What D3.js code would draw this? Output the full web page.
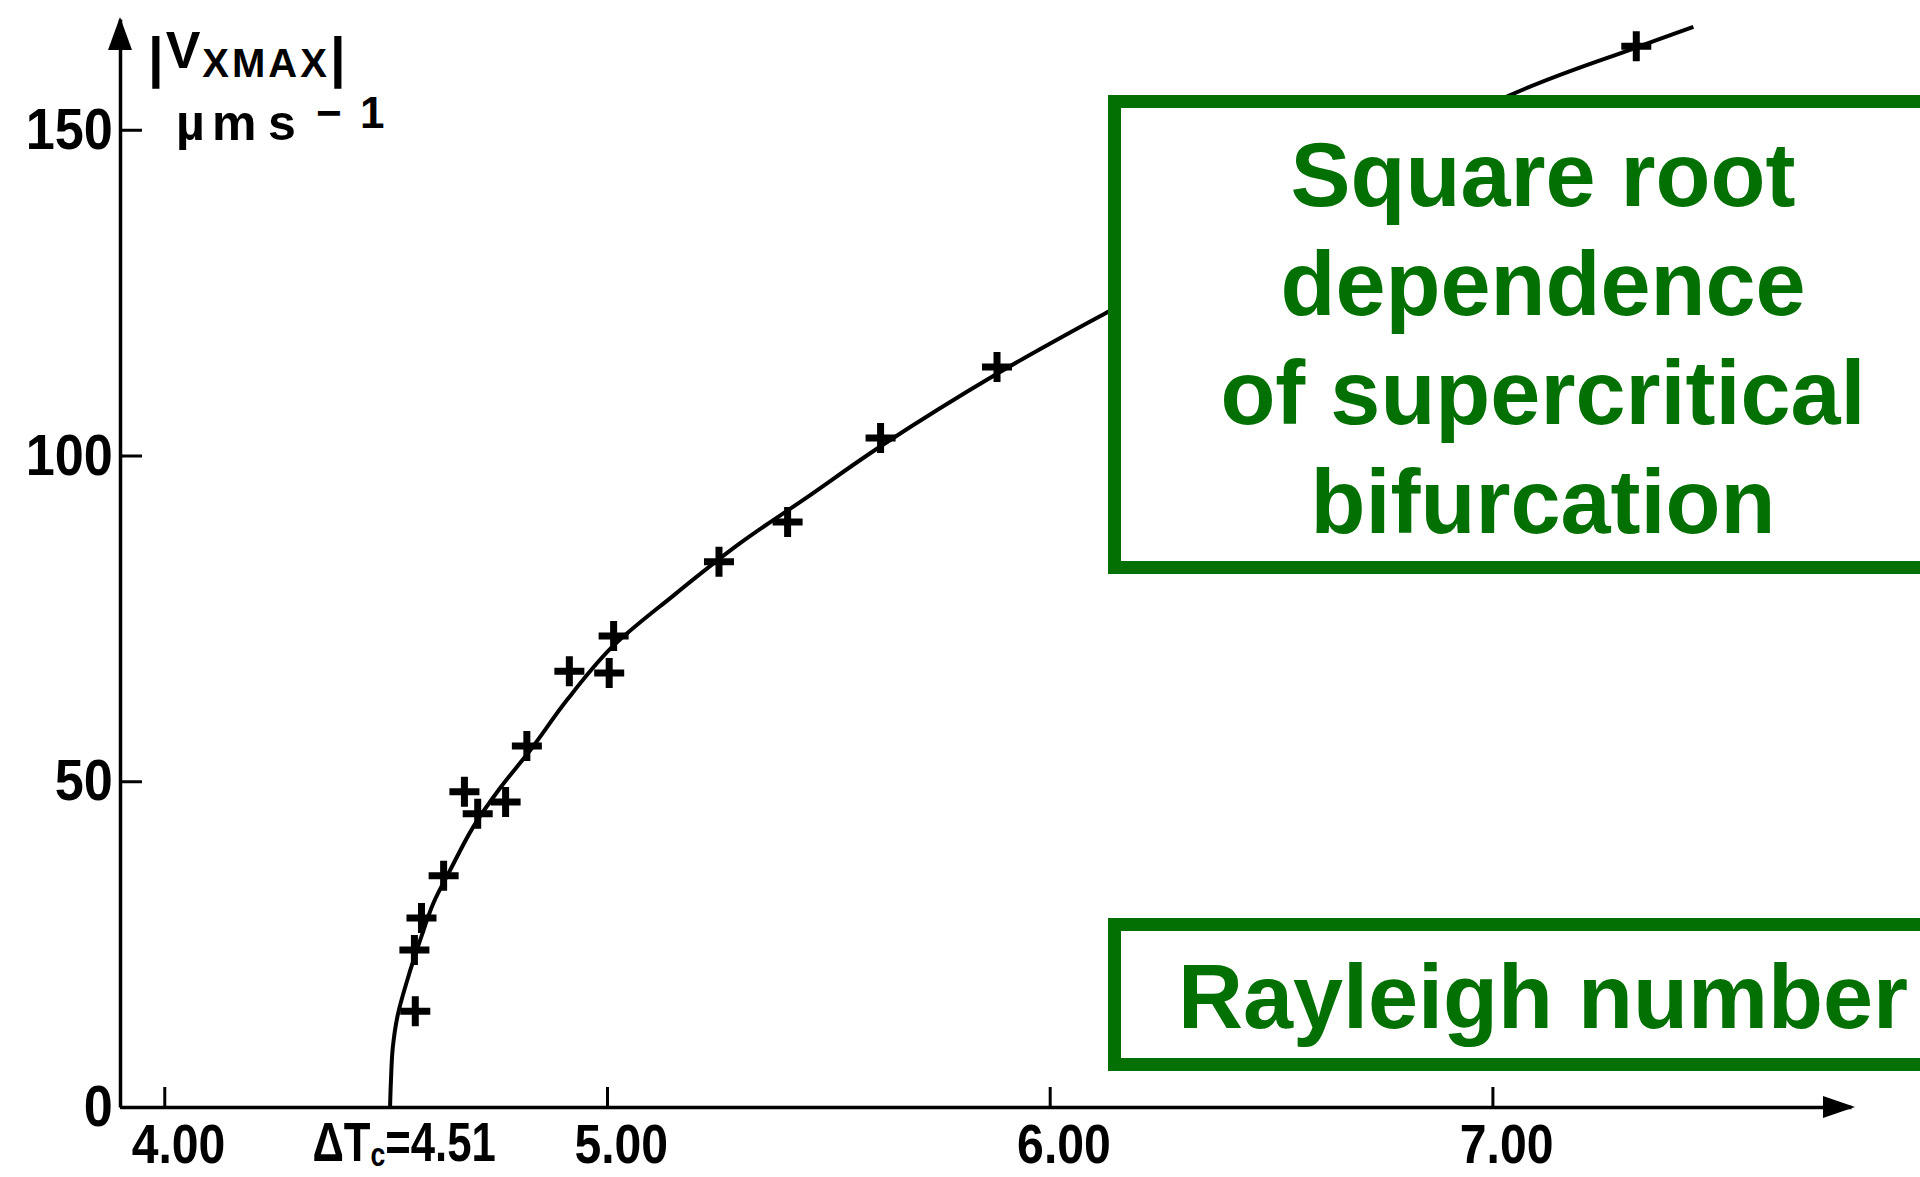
<!DOCTYPE html>
<html>
<head>
<meta charset="utf-8">
<script src="https://cdn.jsdelivr.net/npm/d3@7"></script>
<style>
body { margin: 0; background: #fff; }
svg { display: block; }
</style>
</head>
<body>
<div id="chart"></div>
<script>
/* axis ticks */
const xTicks = [4, 5, 6, 7];
const yTicks = [0, 50, 100, 150];
const criticalT = 4.51;

/* measured points (+) */
const pointX = [4.567, 4.565, 4.581, 4.631, 4.678, 4.708, 4.771, 4.819, 4.915, 5.005, 5.015, 5.253, 5.408, 5.618, 5.881, 7.325];
const pointY = [14.7, 24.1, 29.0, 35.5, 48.4, 45.0, 46.8, 55.4, 66.9, 66.6, 72.3, 83.7, 89.8, 102.7, 113.6, 162.8];

/* drawn curve */
const curveX = [4.510, 4.512, 4.516, 4.527, 4.549, 4.578, 4.608, 4.646, 4.698, 4.759, 4.827, 4.910, 5.010, 5.150, 5.300, 5.450, 5.620, 5.880, 6.130, 6.500, 7.030, 7.320, 7.454];
const curveY = [0, 4, 9, 14, 19.5, 25.6, 31.3, 36.4, 43.0, 49.0, 54.8, 62.5, 70.5, 78.5, 86.5, 93.5, 101.5, 112.5, 122, 135.5, 155, 162.5, 165.8];

/* annotation boxes */
const noteLines = ['Square root', 'dependence', 'of supercritical', 'bifurcation'];
const xLabelText = 'Rayleigh number';

const width = 1920, height = 1177;
const green = '#037003';
const sans = "'Liberation Sans',Arial,Helvetica,sans-serif";

const svg = d3.select('#chart').append('svg')
	.attr('width', width).attr('height', height);

const x = d3.scaleLinear().domain([3.9, 7.81]).range([120, 1851]);
const y = d3.scaleLinear().domain([0, 167]).range([1107, 19]);

// curve
const line = d3.line()
	.x((d) => x(d[0]))
	.y((d) => y(d[1]))
	.curve(d3.curveCatmullRom.alpha(0.5));

svg.append('path')
	.datum(curveX.map((v, i) => [v, curveY[i]]))
	.attr('d', line)
	.attr('fill', 'none')
	.attr('stroke', '#000')
	.attr('stroke-width', 4);

// + markers
svg.selectAll('.pt')
	.data(pointX.map((v, i) => [v, pointY[i]]))
	.enter()
	.append('path')
	.attr('class', 'pt')
	.attr('transform', (d) => 'translate(' + x(d[0]) + ',' + y(d[1]) + ')')
	.attr('d', 'M-15,0H15M0,-15V15')
	.attr('stroke', '#000')
	.attr('stroke-width', 7);

// x axis
const gx = svg.append('g').attr('transform', 'translate(0,' + y(0) + ')');
gx.call(d3.axisBottom(x).tickValues(xTicks).tickFormat(d3.format('.2f'))
	.tickSizeInner(-20).tickSizeOuter(0).tickPadding(0));
gx.select('.domain').attr('stroke', '#000').attr('stroke-width', 3.5);
gx.selectAll('.tick line').attr('stroke', '#000').attr('stroke-width', 3);
gx.selectAll('.tick text')
	.attr('y', 56).attr('dy', 0).attr('dx', 16)
	.attr('transform', 'scale(0.86,1)')
	.attr('fill', '#000')
	.style('font-family', sans).style('font-weight', 'bold').style('font-size', '56px');

// critical value label
const crit = svg.append('g')
	.attr('transform', 'translate(' + (x(criticalT) + 14) + ',' + (y(0) + 54) + ') scale(0.78,1)')
	.append('text')
	.attr('text-anchor', 'middle')
	.style('font-family', sans).style('font-weight', 'bold').style('font-size', '56px');
crit.append('tspan').text('ΔT');
crit.append('tspan').attr('dy', 5).style('font-size', '34px').text('c');
crit.append('tspan').attr('dy', -5).text('=' + criticalT.toFixed(2));

// x arrow
svg.append('path')
	.attr('d', 'M' + (x(7.81) + 4) + ',' + y(0) + 'l-32,-11v22z')
	.attr('fill', '#000');

// y axis
const gy = svg.append('g').attr('transform', 'translate(' + x(3.9) + ',0)');
gy.call(d3.axisLeft(y).tickValues(yTicks)
	.tickSizeInner(-22).tickSizeOuter(0).tickPadding(8));
gy.select('.domain').attr('stroke', '#000').attr('stroke-width', 3.5);
gy.selectAll('.tick line').attr('stroke', '#000').attr('stroke-width', 3);
gy.selectAll('.tick text')
	.attr('transform', 'scale(0.9,1)')
	.attr('fill', '#000')
	.style('font-family', sans).style('font-weight', 'bold').style('font-size', '58px');

// y arrow
svg.append('path')
	.attr('d', 'M' + x(3.9) + ',' + (y(167) - 2) + 'l-12,33h24z')
	.attr('fill', '#000');

// y axis title
const t1 = svg.append('text')
	.attr('x', 148).attr('y', 76)
	.style('font-family', sans).style('font-weight', 'bold').style('font-size', '56px');
t1.append('tspan').text('|');
t1.append('tspan').attr('dy', -8).attr('dx', 2).style('font-size', '52px').text('V');
t1.append('tspan').attr('dy', 9).attr('dx', 2).style('font-size', '40px').style('letter-spacing', '3px').text('XMAX');
t1.append('tspan').attr('dy', -1).style('font-size', '56px').text('|');

const t2 = svg.append('text')
	.attr('y', 140)
	.style('font-family', sans).style('font-weight', 'bold').style('font-size', '50px');
t2.append('tspan').attr('x', 176).text('µ');
t2.append('tspan').attr('x', 212).text('m');
t2.append('tspan').attr('x', 268).text('s');
t2.append('tspan').attr('x', 316).attr('y', 128).style('font-size', '44px').text('−');
t2.append('tspan').attr('x', 360).attr('y', 128).style('font-size', '44px').text('1');

// annotation boxes
svg.append('rect')
	.attr('x', 1114.5).attr('y', 101.5).attr('width', 900).attr('height', 466)
	.attr('fill', '#fff').attr('stroke', green).attr('stroke-width', 13);

svg.append('rect')
	.attr('x', 1114.5).attr('y', 924.5).attr('width', 900).attr('height', 140)
	.attr('fill', '#fff').attr('stroke', green).attr('stroke-width', 13);

svg.selectAll('.note')
	.data(noteLines)
	.enter()
	.append('text')
	.attr('class', 'note')
	.attr('x', 1543)
	.attr('y', (d, i) => 206 + i * 109)
	.attr('text-anchor', 'middle')
	.attr('fill', green)
	.style('font-family', sans).style('font-weight', 'bold').style('font-size', '90px')
	.text((d) => d);

svg.append('text')
	.attr('x', 1543).attr('y', 1028)
	.attr('text-anchor', 'middle')
	.attr('fill', green)
	.style('font-family', sans).style('font-weight', 'bold').style('font-size', '90px')
	.text(xLabelText);
</script>
</body>
</html>
